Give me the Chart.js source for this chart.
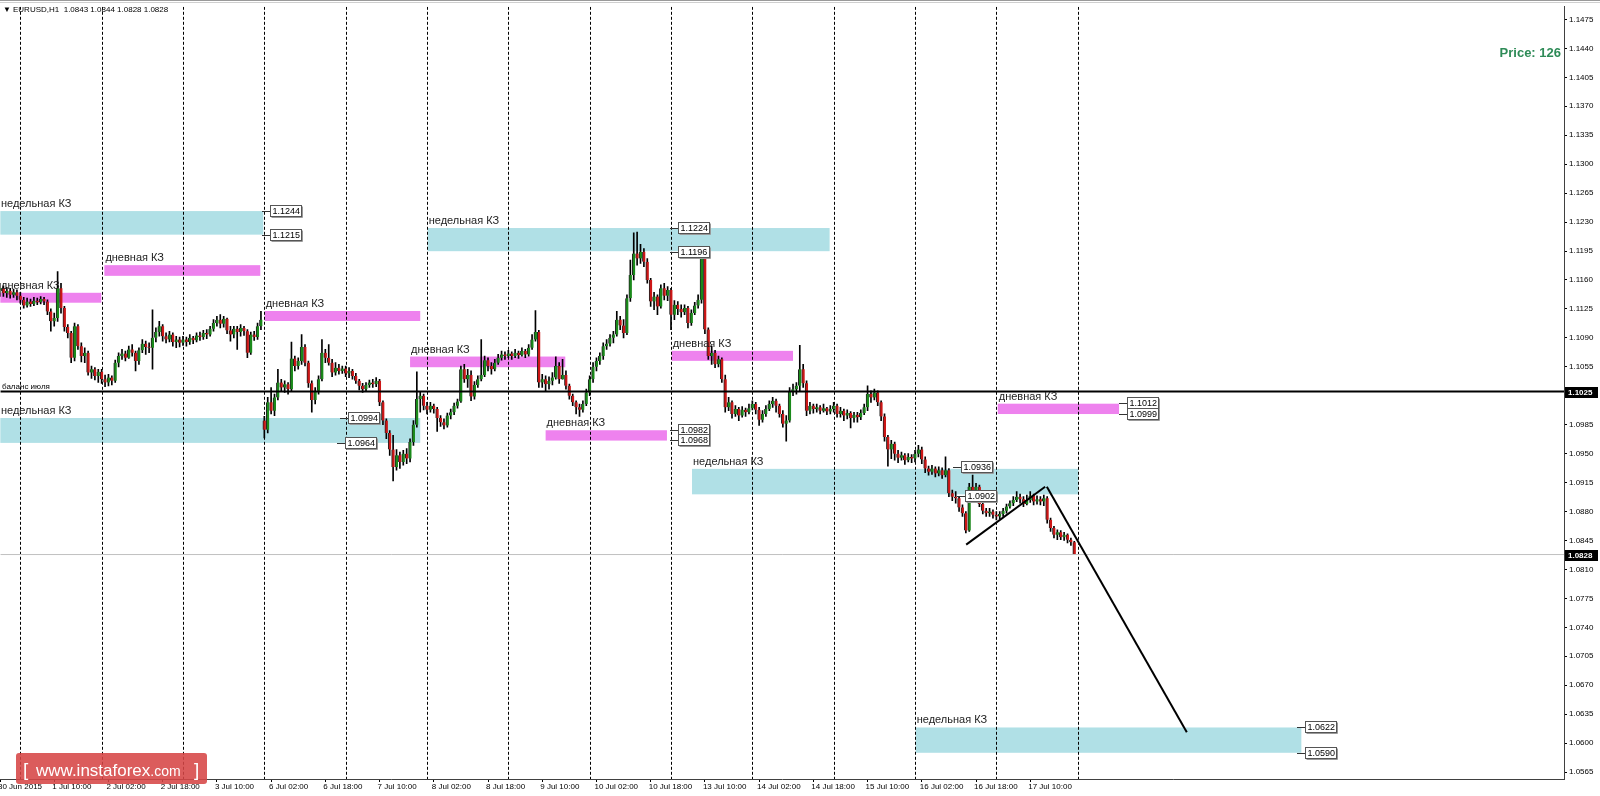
<!DOCTYPE html>
<html>
<head>
<meta charset="utf-8">
<title>EURUSD H1</title>
<script src="https://cdn.jsdelivr.net/npm/chart.js@4.4.0/dist/chart.umd.min.js"></script>
<style>
  html, body { margin: 0; padding: 0; background: #fff; }
  #wrap { width: 1600px; height: 796px; }
</style>
</head>
<body>
<div id="wrap"><canvas id="chart" width="1600" height="796"></canvas></div>
<script>
// bars are counted in trading hours from 1 Jul 2015 00:00 (weekend skipped), first bar is 30 Jun 18:00
var firstHour = -6;
var firstOpen = 1.1148;
var gapOpens = [[72, 1.0990]]; // Monday 6 Jul opened with a gap

var closes = [
  1.1150, 1.1144, 1.1147, 1.1142, 1.1145, 1.1141,
  // 1 Jul
  1.1136, 1.1129, 1.1134, 1.1131, 1.1135, 1.1133, 1.1137, 1.1134, 1.1122, 1.1110, 1.1114, 1.1150,
  1.1126, 1.1103, 1.1096, 1.1066, 1.1104, 1.1080, 1.1068, 1.1072, 1.1048, 1.1052, 1.1044, 1.1049,
  // 2 Jul
  1.1040, 1.1036, 1.1042, 1.1038, 1.1060, 1.1068, 1.1071, 1.1066, 1.1076, 1.1072, 1.1062, 1.1075,
  1.1083, 1.1079, 1.1078, 1.1090, 1.1097, 1.1104, 1.1092, 1.1088, 1.1094, 1.1085, 1.1088, 1.1084,
  // 3 Jul
  1.1088, 1.1085, 1.1090, 1.1087, 1.1093, 1.1091, 1.1096, 1.1094, 1.1101, 1.1108, 1.1112, 1.1107,
  1.1113, 1.1099, 1.1094, 1.1101, 1.1097, 1.1102, 1.1098, 1.1072, 1.1094, 1.1091, 1.1104, 1.1112,
  // 6 Jul
  1.0979, 1.1012, 1.1002, 1.1018, 1.1036, 1.1030, 1.1034, 1.1028, 1.1065, 1.1056, 1.1062, 1.1079,
  1.1060, 1.1035, 1.1015, 1.1026, 1.1040, 1.1072, 1.1066, 1.1060, 1.1048, 1.1054, 1.1050, 1.1053,
  // 7 Jul
  1.1047, 1.1050, 1.1044, 1.1038, 1.1032, 1.1028, 1.1033, 1.1036, 1.1034, 1.1038, 1.1012, 1.0990,
  1.0975, 1.0955, 1.0934, 1.0948, 1.0940, 1.0950, 1.0944, 1.0964, 1.0985, 1.1016, 1.1020, 1.1008,
  // 8 Jul
  1.1003, 1.1008, 1.1004, 1.0993, 1.0988, 1.0984, 1.0996, 1.1000, 1.1008, 1.1013, 1.1052, 1.1040,
  1.1045, 1.1019, 1.1033, 1.1040, 1.1045, 1.1063, 1.1056, 1.1052, 1.1060, 1.1066, 1.1070, 1.1068,
  // 9 Jul
  1.1071, 1.1068, 1.1072, 1.1069, 1.1074, 1.1070, 1.1078, 1.1088, 1.1097, 1.1036, 1.1040, 1.1034,
  1.1038, 1.1042, 1.1056, 1.1040, 1.1045, 1.1032, 1.1020, 1.1012, 1.1006, 1.1003, 1.1010, 1.1024,
  // 10 Jul
  1.1040, 1.1055, 1.1062, 1.1068, 1.1080, 1.1083, 1.1090, 1.1094, 1.1112, 1.1105, 1.1096, 1.1138,
  1.1166, 1.1192, 1.1186, 1.1194, 1.1182, 1.1160, 1.1134, 1.1140, 1.1128, 1.1150, 1.1141, 1.1148,
  // 13 Jul
  1.1118, 1.1130, 1.1125, 1.1121, 1.1126, 1.1108, 1.1120, 1.1129, 1.1136, 1.1186, 1.1100, 1.1068,
  1.1072, 1.1058, 1.1064, 1.1040, 1.1006, 1.1012, 1.0998, 1.1004, 1.0996, 1.1003, 1.1000, 1.1005,
  // 14 Jul
  1.1010, 1.1003, 1.0991, 1.0998, 1.1004, 1.1010, 1.1014, 1.1008, 1.0998, 1.0986, 1.0990, 1.1025,
  1.1028, 1.1032, 1.1052, 1.1035, 1.1002, 1.1008, 1.1004, 1.1006, 1.1002, 1.1005, 1.1001, 1.1004,
  // 15 Jul
  1.1008, 1.0998, 1.1002, 1.0996, 1.0999, 1.0993, 1.0997, 1.0994, 1.0999, 1.1006, 1.1022, 1.1018,
  1.1024, 1.1012, 1.0995, 1.0970, 1.0955, 1.0962, 1.0950, 1.0945, 1.0948, 1.0942, 1.0946, 1.0944,
  // 16 Jul
  1.0950, 1.0955, 1.0943, 1.0932, 1.0928, 1.0932, 1.0926, 1.0930, 1.0924, 1.0930, 1.0902, 1.0898,
  1.0896, 1.0885, 1.0878, 1.0857, 1.0910, 1.0903, 1.0910, 1.0889, 1.0881, 1.0878, 1.0880, 1.0876,
  // 17 Jul
  1.0874, 1.0877, 1.0881, 1.0886, 1.0890, 1.0894, 1.0898, 1.0895, 1.0889, 1.0894, 1.0899, 1.0892,
  1.0895, 1.0892, 1.0896, 1.0870, 1.0860, 1.0852, 1.0855, 1.0849, 1.0852, 1.0846, 1.0843, 1.0828
];

var highs = [
  1.1156, 1.1153, 1.1151, 1.1150, 1.1149, 1.1148,
  1.1145, 1.1139, 1.1138, 1.1137, 1.1139, 1.1138, 1.1140, 1.1139, 1.1136, 1.1125, 1.1120, 1.1170,
  1.1156, 1.1128, 1.1106, 1.1098, 1.1108, 1.1106, 1.1084, 1.1078, 1.1074, 1.1056, 1.1054, 1.1052,
  1.1052, 1.1045, 1.1046, 1.1044, 1.1063, 1.1072, 1.1076, 1.1074, 1.1080, 1.1082, 1.1074, 1.1078,
  1.1088, 1.1086, 1.1084, 1.1124, 1.1102, 1.1110, 1.1106, 1.1096, 1.1098, 1.1096, 1.1092, 1.1091,
  1.1092, 1.1091, 1.1094, 1.1092, 1.1096, 1.1097, 1.1099, 1.1100, 1.1104, 1.1112, 1.1116, 1.1118,
  1.1116, 1.1114, 1.1104, 1.1104, 1.1104, 1.1106, 1.1104, 1.1100, 1.1097, 1.1098, 1.1108, 1.1122,
  1.0995, 1.1018, 1.1030, 1.1022, 1.1052, 1.1040, 1.1038, 1.1036, 1.1085, 1.1068, 1.1066, 1.1094,
  1.1082, 1.1062, 1.1038, 1.1030, 1.1044, 1.1088, 1.1076, 1.1082, 1.1064, 1.1060, 1.1058, 1.1056,
  1.1056, 1.1054, 1.1052, 1.1047, 1.1040, 1.1035, 1.1036, 1.1039, 1.1040, 1.1042, 1.1040, 1.1014,
  1.0992, 1.0978, 1.0972, 1.0955, 1.0952, 1.0954, 1.0956, 1.0968, 1.0990, 1.1049, 1.1025, 1.1022,
  1.1012, 1.1012, 1.1010, 1.1006, 1.0996, 1.0992, 1.0999, 1.1004, 1.1011, 1.1016, 1.1056, 1.1058,
  1.1052, 1.1050, 1.1037, 1.1044, 1.1088, 1.1068, 1.1066, 1.1060, 1.1064, 1.1070, 1.1074, 1.1073,
  1.1075, 1.1073, 1.1076, 1.1074, 1.1078, 1.1076, 1.1082, 1.1094, 1.1123, 1.1099, 1.1046, 1.1044,
  1.1043, 1.1048, 1.1067, 1.1060, 1.1064, 1.1050, 1.1034, 1.1022, 1.1014, 1.1010, 1.1014, 1.1028,
  1.1044, 1.1060, 1.1066, 1.1072, 1.1084, 1.1088, 1.1094, 1.1098, 1.1122, 1.1116, 1.1112, 1.1142,
  1.1184, 1.1217, 1.1218, 1.1203, 1.1198, 1.1186, 1.1162, 1.1145, 1.1142, 1.1154, 1.1156, 1.1152,
  1.1150, 1.1135, 1.1134, 1.1130, 1.1130, 1.1128, 1.1124, 1.1133, 1.1142, 1.1196, 1.1188, 1.1102,
  1.1080, 1.1075, 1.1068, 1.1066, 1.1045, 1.1018, 1.1014, 1.1008, 1.1006, 1.1007, 1.1005, 1.1010,
  1.1014, 1.1012, 1.1006, 1.1002, 1.1008, 1.1014, 1.1018, 1.1016, 1.1010, 1.1002, 1.0996, 1.1030,
  1.1034, 1.1036, 1.1081, 1.1058, 1.1038, 1.1012, 1.1010, 1.1010, 1.1008, 1.1010, 1.1006, 1.1008,
  1.1012, 1.1010, 1.1006, 1.1004, 1.1003, 1.1001, 1.1000, 1.1000, 1.1003, 1.1010, 1.1032, 1.1026,
  1.1028, 1.1026, 1.1014, 1.0998, 1.0972, 1.0966, 1.0964, 1.0954, 1.0952, 1.0950, 1.0950, 1.0949,
  1.0954, 1.0960, 1.0958, 1.0946, 1.0935, 1.0936, 1.0934, 1.0934, 1.0933, 1.0946, 1.0932, 1.0906,
  1.0904, 1.0898, 1.0888, 1.0880, 1.0914, 1.0924, 1.0914, 1.0912, 1.0892, 1.0884, 1.0884, 1.0882,
  1.0880, 1.0880, 1.0884, 1.0889, 1.0893, 1.0898, 1.0904, 1.0901, 1.0898, 1.0900, 1.0904, 1.0901,
  1.0899, 1.0898, 1.0900, 1.0898, 1.0872, 1.0862, 1.0858, 1.0857, 1.0855, 1.0853, 1.0848, 1.0844
];

var lows = [
  1.1140, 1.1140, 1.1139, 1.1138, 1.1139, 1.1136,
  1.1132, 1.1126, 1.1127, 1.1128, 1.1129, 1.1130, 1.1131, 1.1130, 1.1118, 1.1098, 1.1104, 1.1110,
  1.1120, 1.1098, 1.1090, 1.1060, 1.1062, 1.1076, 1.1061, 1.1060, 1.1045, 1.1041, 1.1039, 1.1036,
  1.1035, 1.1031, 1.1032, 1.1033, 1.1036, 1.1055, 1.1064, 1.1062, 1.1065, 1.1068, 1.1050, 1.1058,
  1.1072, 1.1070, 1.1072, 1.1052, 1.1085, 1.1092, 1.1086, 1.1084, 1.1085, 1.1080, 1.1078, 1.1079,
  1.1081, 1.1080, 1.1082, 1.1083, 1.1085, 1.1087, 1.1088, 1.1089, 1.1092, 1.1098, 1.1104, 1.1102,
  1.1103, 1.1095, 1.1086, 1.1090, 1.1076, 1.1092, 1.1093, 1.1066, 1.1070, 1.1087, 1.1088, 1.1100,
  1.0969, 1.0975, 1.0998, 1.0996, 1.1015, 1.1026, 1.1024, 1.1022, 1.1026, 1.1050, 1.1052, 1.1058,
  1.1056, 1.1030, 1.1000, 1.1010, 1.1022, 1.1038, 1.1060, 1.1057, 1.1043, 1.1045, 1.1046, 1.1047,
  1.1043, 1.1042, 1.1040, 1.1035, 1.1027, 1.1024, 1.1026, 1.1030, 1.1030, 1.1031, 1.1008, 1.0985,
  1.0968, 1.0948, 1.0917, 1.0930, 1.0932, 1.0936, 1.0938, 1.0940, 1.0960, 1.0982, 1.1000, 1.1003,
  1.0998, 1.1000, 1.0999, 1.0977, 1.0983, 1.0980, 1.0982, 1.0992, 1.0997, 1.1005, 1.1012, 1.1036,
  1.1030, 1.1014, 1.1016, 1.1030, 1.1038, 1.1043, 1.1050, 1.1046, 1.1050, 1.1058, 1.1063, 1.1064,
  1.1066, 1.1064, 1.1066, 1.1065, 1.1068, 1.1066, 1.1068, 1.1076, 1.1086, 1.1030, 1.1030, 1.1026,
  1.1028, 1.1033, 1.1040, 1.1035, 1.1040, 1.1028, 1.1016, 1.1008, 1.0998, 1.0995, 1.1000, 1.1008,
  1.1020, 1.1036, 1.1050, 1.1058, 1.1064, 1.1076, 1.1080, 1.1084, 1.1092, 1.1100, 1.1090, 1.1094,
  1.1134, 1.1160, 1.1178, 1.1180, 1.1176, 1.1156, 1.1128, 1.1124, 1.1118, 1.1126, 1.1136, 1.1135,
  1.1100, 1.1112, 1.1118, 1.1115, 1.1118, 1.1102, 1.1105, 1.1118, 1.1126, 1.1132, 1.1095, 1.1064,
  1.1058, 1.1054, 1.1055, 1.1036, 1.1000, 1.1002, 1.0993, 1.0995, 1.0990, 1.0994, 1.0995, 1.0998,
  1.1003, 1.0998, 1.0984, 1.0988, 1.0995, 1.1002, 1.1006, 1.1000, 1.0994, 1.0982, 1.0965, 1.0988,
  1.1020, 1.1022, 1.1026, 1.1030, 1.0996, 1.0998, 1.0999, 1.1000, 1.0998, 1.1000, 1.0997, 1.0998,
  1.1000, 1.0994, 1.0994, 1.0990, 1.0992, 1.0981, 1.0988, 1.0988, 1.0991, 1.0997, 1.1002, 1.1012,
  1.1015, 1.1008, 1.0990, 1.0965, 1.0935, 1.0944, 1.0942, 1.0939, 1.0942, 1.0937, 1.0940, 1.0939,
  1.0940, 1.0946, 1.0938, 1.0927, 1.0924, 1.0925, 1.0922, 1.0923, 1.0920, 1.0922, 1.0898, 1.0893,
  1.0890, 1.0880, 1.0874, 1.0854, 1.0856, 1.0898, 1.0900, 1.0886, 1.0877, 1.0874, 1.0874, 1.0872,
  1.0870, 1.0871, 1.0874, 1.0878, 1.0884, 1.0887, 1.0892, 1.0890, 1.0886, 1.0888, 1.0891, 1.0888,
  1.0889, 1.0888, 1.0887, 1.0866, 1.0856, 1.0848, 1.0846, 1.0846, 1.0845, 1.0842, 1.0839, 1.0828
];

var timeTicks = [-6, 10, 26, 42, 58, 74, 90, 106, 122, 138, 154, 170, 186, 202, 218, 234, 250, 266, 282, 298];
var timeLabels = ['30 Jun 2015', '1 Jul 10:00', '2 Jul 02:00', '2 Jul 18:00', '3 Jul 10:00', '6 Jul 02:00',
  '6 Jul 18:00', '7 Jul 10:00', '8 Jul 02:00', '8 Jul 18:00', '9 Jul 10:00', '10 Jul 02:00', '10 Jul 18:00',
  '13 Jul 10:00', '14 Jul 02:00', '14 Jul 18:00', '15 Jul 10:00', '16 Jul 02:00', '16 Jul 18:00', '17 Jul 10:00'];
var daySeparators = [0, 24, 48, 72, 96, 120, 144, 168, 192, 216, 240, 264, 288, 312];

var priceTicks = [1.0565, 1.0600, 1.0635, 1.0670, 1.0705, 1.0740, 1.0775, 1.0810, 1.0845, 1.0880,
  1.0915, 1.0950, 1.0985, 1.1020, 1.1055, 1.1090, 1.1125, 1.1160, 1.1195, 1.1230, 1.1265, 1.1300,
  1.1335, 1.1370, 1.1405, 1.1440, 1.1475];

// zones: kind, from hour, to hour, upper price, lower price
var zoneNames = { week: 'недельная КЗ', day: 'дневная КЗ' };
var zones = [
  ['week', -6.5, 71.7, 1.12433, 1.12148],
  ['day', 24.8, 70.8, 1.11779, 1.11650],
  ['day', -6.5, 23.9, 1.11445, 1.11325],
  ['day', 72.1, 118.0, 1.11225, 1.11104],
  ['week', -6.5, 118.0, 1.09931, 1.09630],
  ['week', 120.2, 238.8, 1.12228, 1.11948],
  ['day', 115.0, 160.8, 1.10674, 1.10545],
  ['day', 155.0, 190.8, 1.09783, 1.09658],
  ['day', 192.2, 228.0, 1.10743, 1.10622],
  ['week', 198.2, 312.2, 1.09316, 1.09008],
  ['day', 288.4, 324.2, 1.10104, 1.09979],
  ['week', 264.2, 378.0, 1.06189, 1.05883]
];

// price tags: hour, price, text
var levelTags = [
  [71.4, 1.12433, '1.1244'], [71.4, 1.12148, '1.1215'],
  [94.4, 1.09931, '1.0994'], [93.4, 1.09630, '1.0964'],
  [191.7, 1.12228, '1.1224'], [191.7, 1.11939, '1.1196'],
  [191.7, 1.09786, '1.0982'], [191.7, 1.09666, '1.0968'],
  [275.3, 1.09337, '1.0936'], [276.3, 1.08987, '1.0902'],
  [324.2, 1.10108, '1.1012'], [324.2, 1.09981, '1.0999'],
  [376.6, 1.06189, '1.0622'], [376.6, 1.05883, '1.0590']
];

var trendLines = [
  [[279.1, 1.0840], [302.4, 1.0910]],
  [[302.9, 1.0910], [344.2, 1.0613]]
];
var balanceLevel = 1.1025;
var balanceText = 'баланс июля';
var lastPrice = 1.0828;
var headerText = 'EURUSD,H1  1.0843 1.0844 1.0828 1.0828';
var priceNote = 'Price: 126';

var hourMin = -5.9, hourMax = 455.5;
var priceMin = 1.05566, priceMax = 1.14903;

var FONT = '"Liberation Sans", Arial, sans-serif';
Chart.defaults.font.family = FONT;

// candles: open is the previous close unless the market gapped
var bodies = [], wicks = [], bodyColors = [];
var prev = firstOpen;
for (var k = 0; k < closes.length; k++) {
  var hr = firstHour + k;
  var o = prev;
  gapOpens.forEach(function (g) { if (g[0] === hr) o = g[1]; });
  var c = closes[k];
  bodies.push({ x: hr, y: [o, c] });
  wicks.push({ x: hr, y: [Math.min(lows[k], o, c), Math.max(highs[k], o, c)] });
  bodyColors.push(c >= o ? '#1a8a1a' : '#cc1616');
  prev = c;
}

var datasets = [
  { type: 'bar', data: wicks, backgroundColor: '#000', barThickness: 1, grouped: false, order: 3, minBarLength: 1 },
  { type: 'bar', data: bodies, backgroundColor: bodyColors, borderColor: '#222', borderWidth: { left: 1, right: 0, top: 0, bottom: 0 },
    barThickness: 3, grouped: false, order: 2, minBarLength: 1 },
  { type: 'line', data: [{ x: hourMin, y: lastPrice }, { x: hourMax, y: lastPrice }],
    borderColor: '#c0c0c0', borderWidth: 1, pointRadius: 0, order: 1 },
  { type: 'line', data: [{ x: hourMin, y: balanceLevel }, { x: hourMax, y: balanceLevel }],
    borderColor: '#000', borderWidth: 2, pointRadius: 0, order: 0 }
];
trendLines.forEach(function (t) {
  datasets.push({ type: 'line', data: [{ x: t[0][0], y: t[0][1] }, { x: t[1][0], y: t[1][1] }],
    borderColor: '#000', borderWidth: 2, pointRadius: 0, order: 0 });
});

function drawTag(ctx, x, y, text) {
  var yy = Math.round(y) + 0.5;
  ctx.strokeStyle = '#333';
  ctx.lineWidth = 1;
  ctx.beginPath(); ctx.moveTo(Math.round(x), yy); ctx.lineTo(Math.round(x) + 8, yy); ctx.stroke();
  var bx = Math.round(x) + 8.5, by = Math.round(y) - 5.5;
  ctx.fillStyle = '#fff';
  ctx.fillRect(bx, by, 31, 11);
  ctx.strokeStyle = '#555';
  ctx.strokeRect(bx, by, 31, 11);
  ctx.strokeStyle = '#999';
  ctx.beginPath(); ctx.moveTo(bx + 1, by + 12); ctx.lineTo(bx + 32, by + 12); ctx.lineTo(bx + 32, by + 1); ctx.stroke();
  ctx.fillStyle = '#000';
  ctx.font = '9px ' + FONT;
  ctx.textAlign = 'left';
  ctx.textBaseline = 'middle';
  ctx.fillText(text, bx + 2, by + 6);
}

var chartObjects = {
  id: 'chartObjects',
  beforeDraw: function (chart) {
    var ctx = chart.ctx;
    ctx.save();
    ctx.fillStyle = '#fff';
    ctx.fillRect(0, 0, chart.width, chart.height);
    ctx.restore();
  },
  beforeDatasetsDraw: function (chart) {
    var ctx = chart.ctx, a = chart.chartArea, xs = chart.scales.x, ys = chart.scales.y;
    ctx.save();
    ctx.beginPath();
    ctx.rect(a.left, a.top, a.right - a.left, a.bottom - a.top);
    ctx.clip();
    zones.forEach(function (z) {
      var x0 = xs.getPixelForValue(z[1]), x1 = xs.getPixelForValue(z[2]);
      var y0 = ys.getPixelForValue(z[3]), y1 = ys.getPixelForValue(z[4]);
      ctx.fillStyle = z[0] === 'week' ? '#b0e0e6' : '#ee82ee';
      ctx.fillRect(x0, y0, x1 - x0, y1 - y0);
    });
    ctx.strokeStyle = '#000';
    ctx.lineWidth = 1;
    ctx.setLineDash([3, 2]);
    daySeparators.forEach(function (h) {
      var x = Math.round(xs.getPixelForValue(h)) + 0.5;
      ctx.beginPath(); ctx.moveTo(x, a.top); ctx.lineTo(x, a.bottom); ctx.stroke();
    });
    ctx.restore();
  },
  afterDatasetsDraw: function (chart) {
    var ctx = chart.ctx, a = chart.chartArea, xs = chart.scales.x, ys = chart.scales.y;
    ctx.save();
    ctx.fillStyle = '#222';
    ctx.font = '11px ' + FONT;
    ctx.textAlign = 'left';
    ctx.textBaseline = 'alphabetic';
    zones.forEach(function (z) {
      var x0 = Math.max(0, xs.getPixelForValue(z[1]));
      var y0 = ys.getPixelForValue(z[3]);
      ctx.fillText(zoneNames[z[0]], x0 + 1, y0 - 4);
    });
    levelTags.forEach(function (t) {
      drawTag(ctx, xs.getPixelForValue(t[0]), ys.getPixelForValue(t[1]), t[2]);
    });
    ctx.fillStyle = '#000';
    ctx.font = '8px ' + FONT;
    ctx.textBaseline = 'alphabetic';
    ctx.fillText(balanceText, 2, ys.getPixelForValue(balanceLevel) - 3);
    // header
    ctx.font = '8px ' + FONT;
    ctx.textBaseline = 'middle';
    ctx.fillText('\u25BC', 3, 10);
    ctx.fillText(headerText, 13, 10);
    // price note
    ctx.fillStyle = '#2e8b57';
    ctx.font = 'bold 13px ' + FONT;
    ctx.textAlign = 'right';
    ctx.fillText(priceNote, a.right - 3, 53);
    ctx.restore();
  },
  afterDraw: function (chart) {
    var ctx = chart.ctx, a = chart.chartArea, ys = chart.scales.y;
    ctx.save();
    // window top frame
    ctx.strokeStyle = '#9a9a9a';
    ctx.lineWidth = 1;
    ctx.beginPath(); ctx.moveTo(0, 0.5); ctx.lineTo(chart.width, 0.5); ctx.stroke();
    ctx.strokeStyle = '#cfcfcf';
    ctx.beginPath(); ctx.moveTo(0, 2.5); ctx.lineTo(chart.width, 2.5); ctx.stroke();
    // axis price boxes
    [balanceLevel, lastPrice].forEach(function (p) {
      var y = Math.round(ys.getPixelForValue(p));
      ctx.fillStyle = '#000';
      ctx.fillRect(a.right + 1, y - 5, 33, 11);
      ctx.fillStyle = '#fff';
      ctx.font = 'bold 8px ' + FONT;
      ctx.textAlign = 'left';
      ctx.textBaseline = 'middle';
      ctx.fillText(p.toFixed(4), a.right + 4, y + 0.5);
    });
    // watermark
    ctx.fillStyle = 'rgba(214, 70, 70, 0.88)';
    ctx.beginPath();
    ctx.roundRect(16, 753, 191, 31, 3);
    ctx.fill();
    ctx.fillStyle = '#fff';
    ctx.textBaseline = 'alphabetic';
    ctx.textAlign = 'left';
    ctx.font = '19px ' + FONT;
    ctx.fillText('[', 23, 776);
    ctx.fillText(']', 194, 776);
    ctx.font = '17px ' + FONT;
    ctx.fillText('www.instaforex', 36, 776);
    var w = ctx.measureText('www.instaforex').width;
    ctx.font = '14px ' + FONT;
    ctx.fillText('.com', 36 + w, 776);
    ctx.restore();
  }
};

new Chart(document.getElementById('chart').getContext('2d'), {
  type: 'bar',
  data: { datasets: datasets },
  options: {
    responsive: false,
    animation: false,
    events: [],
    layout: { padding: { top: 4, left: 0, right: 0, bottom: 0 } },
    plugins: { legend: { display: false }, tooltip: { enabled: false } },
    scales: {
      x: {
        type: 'linear',
        position: 'bottom',
        min: hourMin,
        max: hourMax,
        offset: false,
        afterBuildTicks: function (s) { s.ticks = timeTicks.map(function (v) { return { value: v }; }); },
        afterFit: function (s) { s.height = 17; },
        ticks: {
          autoSkip: false, maxRotation: 0, minRotation: 0, align: 'start', labelOffset: -2, padding: 0,
          color: '#000', font: { size: 8 },
          callback: function (v, i) { return timeLabels[i]; }
        },
        grid: { drawOnChartArea: false, offset: false, tickLength: 3, color: '#000' },
        border: { color: '#404040' }
      },
      y: {
        type: 'linear',
        position: 'right',
        min: priceMin,
        max: priceMax,
        afterBuildTicks: function (s) { s.ticks = priceTicks.map(function (v) { return { value: v }; }); },
        afterFit: function (s) { s.width = 36; },
        ticks: {
          padding: 2, color: '#000', font: { size: 8 },
          callback: function (v) { return v.toFixed(4); }
        },
        grid: { drawOnChartArea: false, tickLength: 3, color: '#000' },
        border: { color: '#404040' }
      }
    }
  },
  plugins: [chartObjects]
});
</script>
</body>
</html>
